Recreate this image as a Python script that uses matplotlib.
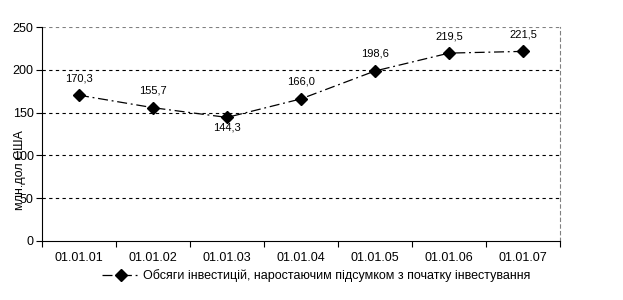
import matplotlib
matplotlib.use("Agg")
import matplotlib.pyplot as plt

categories = ["01.01.01", "01.01.02", "01.01.03", "01.01.04", "01.01.05", "01.01.06", "01.01.07"]
values = [170.3, 155.7, 144.3, 166.0, 198.6, 219.5, 221.5]
labels = ["170,3", "155,7", "144,3", "166,0", "198,6", "219,5", "221,5"]
yticks = [0, 50, 100, 150, 200, 250]
series_name = "Обсяги інвестицій, наростаючим підсумком з початку інвестування"

plt.rcParams['font.family'] = ['Liberation Sans', 'DejaVu Sans']
fig = plt.figure(figsize=(6.23, 3.0), dpi=100)
ax = fig.add_axes([0.0674, 0.197, 0.8315, 0.713])

x = list(range(len(categories)))
line, = ax.plot(x, values, color='black', linestyle=(0, (8, 3, 1.5, 3)), linewidth=0.9,
                marker='D', markersize=6.5, markerfacecolor='black', label=series_name)

for xi, v, lab in zip(x, values, labels):
    below = (xi == 2)
    ax.annotate(lab, (xi, v), xytext=(0, -10 if below else 17), textcoords='offset pixels',
                ha='center', va='center', fontsize=8)

ax.set_xlim(-0.5, len(categories) - 0.5)
ax.set_ylim(0, 250)
ax.set_yticks(yticks)
ax.set_yticklabels([str(t) for t in yticks], fontsize=9)
ax.set_xticks(x)
ax.set_xticklabels(categories, fontsize=9)
ax.tick_params(axis='x', length=0, pad=8)
ax.set_xticks([i - 0.5 for i in range(len(categories) + 1)], minor=True)
ax.tick_params(axis='x', which='minor', length=4, direction='out', width=0.8)
ax.tick_params(axis='y', length=4, width=0.8, pad=2)

for t in yticks[1:-1]:
    ax.axhline(t, color='black', linestyle=(0, (3, 3)), linewidth=0.8, zorder=0)
ax.axhline(250, color='#808080', linestyle=(0, (3, 3)), linewidth=0.8, zorder=0)

ax.spines['top'].set_visible(False)
ax.spines['right'].set_linestyle((0, (3, 3)))
ax.spines['right'].set_color('#808080')
ax.spines['right'].set_linewidth(0.8)
ax.spines['left'].set_linewidth(0.8)
ax.spines['bottom'].set_linewidth(0.8)

fig.text(0.032, 0.433, "млн.дол США", rotation=90, ha='center', va='center', fontsize=9)

ax.legend(handles=[line], loc='upper center', bbox_to_anchor=(0.53, -0.11), frameon=False,
          fontsize=9, handlelength=3, borderaxespad=0, handletextpad=0.3)

fig.savefig("out.png", dpi=100)
